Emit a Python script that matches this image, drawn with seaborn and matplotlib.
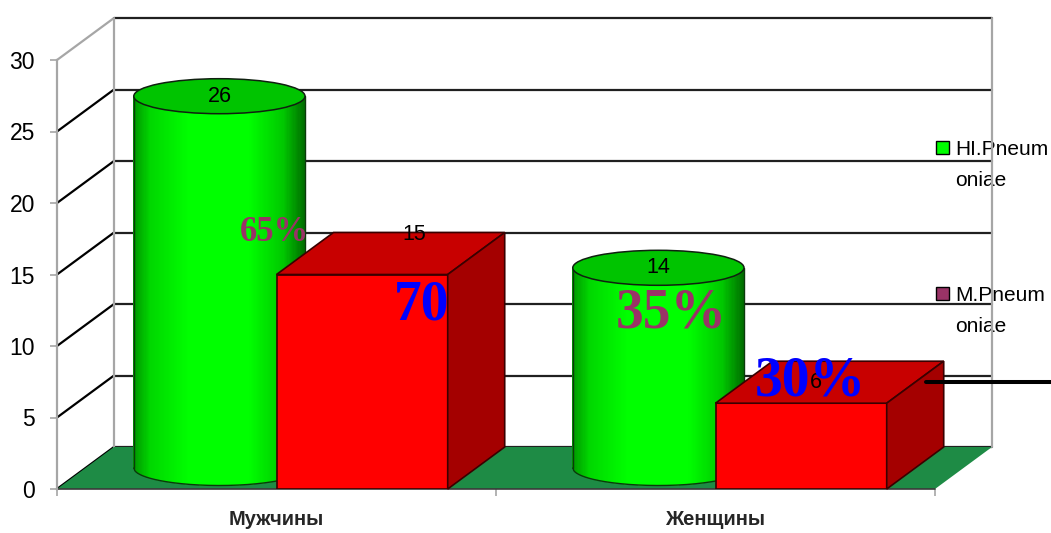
import numpy as np
import pandas as pd
import matplotlib
matplotlib.use("Agg")
import matplotlib.pyplot as plt
import seaborn as sns
from matplotlib.patches import Polygon, Ellipse, Rectangle
from matplotlib.collections import PolyCollection
from matplotlib.lines import Line2D

# ---- data ----
groups = ["Мужчины", "Женщины"]
series = ["HI.Pneumoniae", "M.Pneumoniae"]
legend_labels = ["HI.Pneum\noniae", "M.Pneum\noniae"]
hi_values = [26, 14]
m_values = [15, 6]
share_hi = ["65%", "35%"]
share_m = ["70", "30%"]
y_ticks = [0, 5, 10, 15, 20, 25, 30]

# ---- layout / style ----
W, H, DPI = 1051, 533, 100
DEPTH_X, DEPTH_Y = 57, 42          # depth of the 3-D box, pixels
CYL_B = 17.5                       # half-height of cylinder ellipses, pixels
GREEN = "#00FF00"
RED_FRONT, RED_TOP, RED_SIDE = "#FF0000", "#C80000", "#A40000"
FLOOR = "#1E8B45"
WALL_GRAY = "#A6A6A6"
PURPLE, BLUE = "#993366", "#0000FF"
SANS = ["Liberation Sans", "DejaVu Sans"]
SERIF = ["Liberation Serif", "DejaVu Serif"]
# where the percentage call-outs sit (data coords)
share_hi_pos = [(-0.005, 17.95), (0.90, 12.25)]
share_m_pos = [(0.33, 12.8), (1.215, 7.55)]
share_hi_size = [25, 40]
share_m_size = [40, 40]
# nudges for the value labels of the boxes, pixels
m_label_nudge = [(52, 40), (15, 21)]

sns.set_theme(style="white")
plt.rcParams["font.family"] = SANS

fig = plt.figure(figsize=(W / DPI, H / DPI), dpi=DPI)
fig.patch.set_facecolor("white")
ax = fig.add_axes([57 / W, 1 - 489 / H, (935 - 57) / W, (489 - 60) / H])

df = pd.DataFrame({
    "group": groups * 2,
    "series": [series[0]] * len(groups) + [series[1]] * len(groups),
    "value": hi_values + m_values,
})
sns.barplot(data=df, x="group", y="value", hue="series", order=groups,
            hue_order=series, palette=[GREEN, RED_FRONT], width=0.78,
            ax=ax, legend=False, saturation=1, errorbar=None)
ax.set_xlim(-0.5, 1.5)
ax.set_ylim(0, 30)
ax.set_facecolor("none")
ax.set_xlabel("")
ax.set_ylabel("")

# pixel -> data scale for the depth offsets
p0 = ax.transData.transform((0, 0))
p1 = ax.transData.transform((1, 1))
sx, sy = p1[0] - p0[0], p1[1] - p0[1]
ddx, ddy = DEPTH_X / sx, DEPTH_Y / sy
cb = CYL_B / sy

x_lo, x_hi = -0.5, 1.5
y_top = y_ticks[-1]

# back wall
ax.add_patch(Polygon([(x_lo + ddx, ddy), (x_hi + ddx, ddy), (x_hi + ddx, y_top + ddy),
                      (x_lo + ddx, y_top + ddy)], closed=True, fc="white", ec="none",
                     zorder=0.5, clip_on=False))
for v in y_ticks:
    diag_col = WALL_GRAY if v == y_top else "black"
    ax.add_line(Line2D([x_lo, x_lo + ddx], [v, v + ddy], color=diag_col, lw=1.6,
                       zorder=0.8, clip_on=False))
    ax.add_line(Line2D([x_lo + ddx, x_hi + ddx], [v + ddy, v + ddy], color="#202020",
                       lw=1.6, zorder=0.8, clip_on=False))
ax.add_line(Line2D([x_lo + ddx, x_lo + ddx], [ddy, y_top + ddy], color=WALL_GRAY, lw=1.6,
                   zorder=0.9, clip_on=False))
ax.add_line(Line2D([x_hi + ddx, x_hi + ddx], [ddy, y_top + ddy], color=WALL_GRAY, lw=1.6,
                   zorder=2.5, clip_on=False))

# floor
ax.add_patch(Polygon([(x_lo, 0), (x_hi, 0), (x_hi + ddx, ddy), (x_lo + ddx, ddy)],
                     closed=True, fc=FLOOR, ec="none", zorder=1, clip_on=False))
ax.add_line(Line2D([x_lo, x_hi], [0, 0], color="#3a3a3a", lw=1.2, zorder=1.1,
                   clip_on=False))

# axes frame
for s in ["top", "right", "bottom"]:
    ax.spines[s].set_visible(False)
ax.spines["left"].set_color(WALL_GRAY)
ax.spines["left"].set_linewidth(1.6)
ax.spines["left"].set_zorder(1.2)
ax.set_yticks(y_ticks)
ax.set_yticklabels([str(v) for v in y_ticks], fontsize=16.5)
ax.tick_params(axis="y", left=True, length=5, width=1.2, color=WALL_GRAY, pad=11,
               labelcolor="black")
ax.set_xticks(range(len(groups)))
ax.set_xticklabels(groups, fontweight="bold", fontsize=14.5)
ax.set_xticks([x_lo, 0.5, x_hi], minor=True)
ax.tick_params(axis="x", which="major", length=0, pad=15)
ax.tick_params(axis="x", which="minor", bottom=True, length=5, width=1.2, color=WALL_GRAY)
ax.grid(False)

hi_bars = list(ax.containers[0])
m_bars = list(ax.containers[1])


def shade(t):
    g = np.interp(t, [-1, -0.8, -0.35, 0.35, 0.75, 1.0], [150, 215, 255, 255, 200, 110])
    return (0, g / 255, 0)


# green cylinders, set half way into the depth
for bar, val in zip(hi_bars, hi_values):
    bar.set_visible(False)
    x0 = bar.get_x() + ddx / 2
    w = bar.get_width()
    a = w / 2
    xc = x0 + a
    base = ddy / 2
    top = val + ddy / 2
    n = 140
    xs = np.linspace(x0, x0 + w, n + 1)
    tt = np.clip((xs - xc) / a, -1, 1)
    ybot = base - cb * np.sqrt(1 - tt ** 2)
    polys, cols = [], []
    for i in range(n):
        polys.append([(xs[i], ybot[i]), (xs[i + 1], ybot[i + 1]), (xs[i + 1], top), (xs[i], top)])
        cols.append(shade((tt[i] + tt[i + 1]) / 2))
    pc = PolyCollection(polys, facecolors=cols, edgecolors="none", linewidths=0,
                        antialiaseds=False, zorder=3, clip_on=False)
    ax.add_collection(pc)
    ax.add_line(Line2D(xs, ybot, color="#0b3a0b", lw=1.0, zorder=3.1, clip_on=False))
    ax.add_line(Line2D([x0, x0], [base, top], color="#0b3a0b", lw=1.0, zorder=3.1, clip_on=False))
    ax.add_line(Line2D([x0 + w, x0 + w], [base, top], color="#0b3a0b", lw=1.0, zorder=3.1,
                       clip_on=False))
    ax.add_patch(Ellipse((xc, top), width=w, height=2 * cb, fc="#00C400", ec="#102010",
                         lw=1.1, zorder=3.2, clip_on=False))
    ax.text(xc, top, str(val), ha="center", va="center", fontsize=15.5,
            color="black", zorder=8, clip_on=False)

# red boxes
for bar, val, nudge in zip(m_bars, m_values, m_label_nudge):
    x0, w = bar.get_x(), bar.get_width()
    x1 = x0 + w
    bar.set_facecolor(RED_FRONT)
    bar.set_edgecolor("#3a0000")
    bar.set_linewidth(1.2)
    bar.set_zorder(4)
    ax.add_patch(Polygon([(x0, val), (x1, val), (x1 + ddx, val + ddy), (x0 + ddx, val + ddy)],
                         closed=True, fc=RED_TOP, ec="#3a0000", lw=1.2, zorder=4,
                         clip_on=False))
    ax.add_patch(Polygon([(x1, 0), (x1, val), (x1 + ddx, val + ddy), (x1 + ddx, ddy)],
                         closed=True, fc=RED_SIDE, ec="#3a0000", lw=1.2, zorder=4,
                         clip_on=False))
    ax.annotate(str(val), xy=(x0 + w / 2, val), xytext=nudge, textcoords="offset pixels",
                ha="center", va="center", fontsize=15.5, color="black",
                zorder=8, annotation_clip=False)

# percentage call-outs
for txt, (px, py), fs in zip(share_hi, share_hi_pos, share_hi_size):
    ax.text(px, py, txt, ha="center", va="center", fontsize=fs, fontweight="bold",
            family=SERIF, color=PURPLE, zorder=9, clip_on=False)
for txt, (px, py), fs in zip(share_m, share_m_pos, share_m_size):
    ax.text(px, py, txt, ha="center", va="center", fontsize=fs, fontweight="bold",
            family=SERIF, color=BLUE, zorder=9, clip_on=False)

# legend
legend_colors = [GREEN, PURPLE]
legend_y = [147.5, 293.5]
for lab, col, ly in zip(legend_labels, legend_colors, legend_y):
    ax.add_patch(Rectangle((936 / W, 1 - (ly + 6.5) / H), 13 / W, 13 / H,
                           transform=fig.transFigure, fc=col, ec="black", lw=1.0,
                           zorder=2, clip_on=False))
    for k, line in enumerate(lab.split("\n")):
        ax.text(955 / W, 1 - (ly + 7.5 + 31 * k) / H, line, transform=fig.transFigure,
                ha="left", va="baseline", fontsize=15, color="black",
                zorder=2, clip_on=False)

# marker line on the right
ax.add_line(Line2D([926 / W, 1.0], [1 - 382 / H, 1 - 382 / H], transform=fig.transFigure,
                   color="black", lw=2.9, zorder=10, clip_on=False))

fig.savefig("out.png", dpi=DPI, facecolor="white")
